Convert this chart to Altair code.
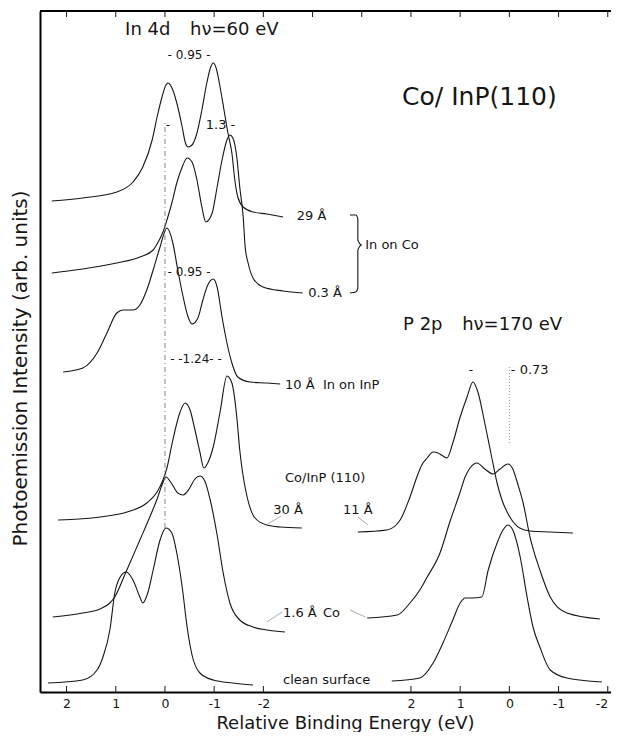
import altair as alt
import pandas as pd

# ---------------- data: binding energy (eV) and intensity (arb. units) ----------------
# In 4d, hv = 60 eV (left panel)
IN_29_E = [2.30, 1.67, 0.98, 0.65, 0.45, 0.26, 0.16, 0.06, -0.02, -0.06, -0.16, -0.24, -0.35, -0.41, -0.47, -0.55,
           -0.65, -0.75, -0.85, -0.93, -0.98, -1.04, -1.12, -1.20, -1.28, -1.36, -1.42, -1.48, -1.59, -1.79, -2.07, -2.40]
IN_29_I = [491, 494, 500, 510, 525, 552, 575, 595, 607, 609, 602, 589, 565, 550, 545, 547,
           559, 582, 609, 625, 629, 624, 605, 582, 559, 539, 512, 495, 485, 480, 478, 475]

IN_03_E = [2.30, 1.67, 0.98, 0.51, 0.24, 0.16, 0.04, -0.04, -0.14, -0.24, -0.35, -0.45, -0.55, -0.65, -0.75, -0.83,
           -0.96, -1.06, -1.16, -1.26, -1.32, -1.38, -1.46, -1.52, -1.59, -1.63, -1.69, -1.79, -1.99, -2.40, -2.80]
IN_03_I = [419, 423, 429, 435, 442, 448, 460, 472, 489, 509, 525, 534, 530, 512, 485, 470,
           479, 505, 532, 552, 557, 554, 535, 505, 475, 445, 429, 414, 405, 401, 399]

IN_10_E = [2.07, 1.67, 1.38, 1.18, 0.98, 0.85, 0.65, 0.51, 0.37, 0.24, 0.10, -0.04, -0.16, -0.26, -0.37, -0.47,
           -0.55, -0.67, -0.77, -0.87, -0.98, -1.06, -1.16, -1.26, -1.36, -1.48, -1.73, -2.07, -2.34]
IN_10_I = [320, 324, 339, 359, 379, 382, 382, 387, 402, 422, 445, 464, 449, 422, 395, 375,
           368, 374, 392, 407, 413, 405, 375, 349, 329, 315, 310, 309, 308]

IN_30_E = [2.17, 1.32, 0.77, 0.37, 0.16, 0.04, -0.04, -0.16, -0.30, -0.41, -0.51, -0.61, -0.71, -0.79,
           -0.87, -0.98, -1.12, -1.26, -1.36, -1.46, -1.52, -1.57, -1.67, -1.83, -2.07, -2.34, -2.78]
IN_30_I = [172, 175, 180, 189, 200, 212, 224, 252, 279, 289, 282, 262, 240, 224,
           229, 245, 280, 316, 309, 275, 242, 222, 195, 174, 167, 165, 164]

IN_16_E = [2.28, 1.67, 1.32, 1.12, 1.02, 0.81, 0.51, 0.30, 0.16, 0.06, -0.02, -0.14, -0.26, -0.37,
           -0.49, -0.61, -0.71, -0.81, -0.91, -1.06, -1.18, -1.32, -1.52, -1.79, -2.07, -2.44]
IN_16_I = [75, 79, 83, 89, 95, 118, 152, 176, 193, 207, 215, 208, 199, 197,
           203, 213, 216, 211, 194, 157, 120, 89, 72, 65, 62, 60]

IN_CLEAN_E = [2.38, 1.67, 1.38, 1.26, 1.12, 1.02, 0.91, 0.79, 0.65, 0.51, 0.45, 0.35, 0.24, 0.10,
              -0.02, -0.14, -0.24, -0.35, -0.45, -0.55, -0.71, -0.98, -1.38, -1.79]
IN_CLEAN_I = [9, 12, 22, 35, 62, 99, 115, 120, 112, 95, 89, 99, 122, 152,
              164, 159, 139, 105, 65, 37, 19, 12, 9, 7]

# P 2p, hv = 170 eV (right panel)
P_11_E = [3.08, 2.49, 2.22, 2.02, 1.88, 1.78, 1.67, 1.55, 1.45, 1.35, 1.27, 1.15, 1.00, 0.86, 0.74,
          0.64, 0.50, 0.36, 0.25, 0.15, -0.01, -0.21, -0.42, -0.83, -1.29]
P_11_I = [160, 162, 172, 195, 215, 227, 234, 240, 239, 236, 234, 249, 275, 295, 310,
          300, 269, 235, 209, 192, 175, 164, 161, 160, 159]

P_16_E = [2.89, 2.28, 2.02, 1.82, 1.67, 1.41, 1.21, 1.00, 0.90, 0.80, 0.66, 0.50, 0.33, 0.19, 0.03,
          -0.07, -0.17, -0.28, -0.42, -0.62, -0.83, -1.17, -1.84]
P_16_I = [74, 77, 89, 102, 115, 139, 170, 200, 215, 224, 229, 223, 218, 223, 228,
          223, 208, 189, 155, 122, 95, 79, 73]

P_CLEAN_E = [2.39, 1.82, 1.55, 1.35, 1.15, 1.00, 0.90, 0.76, 0.56, 0.43, 0.25, 0.13, 0.03, -0.07,
             -0.22, -0.36, -0.48, -0.62, -0.83, -1.17, -1.88]
P_CLEAN_I = [11, 14, 29, 49, 72, 89, 94, 94, 95, 122, 149, 162, 167, 162,
             135, 95, 65, 45, 22, 14, 10]

# axis ticks (shared axis position: In 4d at -E, P 2p at P_OFFSET - E)
P_OFFSET = 7.0
BOTTOM_TICKS = [-2, -1, 0, 1, 2, 5, 6, 7, 8, 9]
TOP_TICKS = list(range(-2, 10))

SERIES = [
    ("In 29 A", "In", IN_29_E, IN_29_I),
    ("In 0.3 A", "In", IN_03_E, IN_03_I),
    ("In 10 A", "In", IN_10_E, IN_10_I),
    ("In 30 A", "In", IN_30_E, IN_30_I),
    ("In 1.6 A", "In", IN_16_E, IN_16_I),
    ("In clean", "In", IN_CLEAN_E, IN_CLEAN_I),
    ("P 11 A", "P", P_11_E, P_11_I),
    ("P 1.6 A", "P", P_16_E, P_16_I),
    ("P clean", "P", P_CLEAN_E, P_CLEAN_I),
]

rows = []
for name, panel, es, ys in SERIES:
    for e, i in zip(es, ys):
        rows.append({"series": name, "u": (-e if panel == "In" else P_OFFSET - e), "I": i})
curves = pd.DataFrame(rows)

# ---------------- annotations ----------------
TITLES = [
    ("In 4d", -0.81, 662, 18),
    ("hν=60 eV", 0.51, 662, 18),
    ("Co/ InP(110)", 4.82, 595, 25),
    ("P 2p", 4.84, 367, 18),
    ("hν=170 eV", 6.04, 367, 18),
]
LABELS = [
    ("29 Å", 2.68, 476), ("0.3 Å", 2.91, 399), ("10 Å", 2.44, 307), ("In on InP", 3.21, 307),
    ("Co/InP (110)", 2.44, 214), ("30 Å", 2.20, 182), ("11 Å", 3.62, 182),
    ("1.6 Å", 2.40, 79), ("Co", 3.21, 79), ("clean surface", 2.40, 12), ("In on Co", 4.07, 447),
    ("1.3 -", 0.83, 567), ("- 0.73", 7.03, 322),
]
SPLITS = [
    ("- 0.95 -", 0.49, 637), ("-", 0.06, 567), ("- 0.95 -", 0.49, 420),
    ("- -1.24- -", 0.63, 333), ("-", 6.22, 322),
]
REF_IN = pd.DataFrame({"u": [0.0], "I1": [164], "I2": [569]})
REF_P = pd.DataFrame({"u": [7.0], "I1": [249], "I2": [327]})
BRACKET = pd.DataFrame({
    "u": [3.76, 3.88, 3.92, 3.92, 4.00, 3.92, 3.92, 3.88, 3.76],
    "I": [477, 477, 473, 452, 447, 442, 404, 400, 399],
})
BRACKET["o"] = range(len(BRACKET))
LEADERS = pd.DataFrame({
    "g": ["a", "a", "b", "b", "c", "c", "d", "d"],
    "u": [2.09, 2.36, 3.92, 4.13, 2.07, 2.38, 3.76, 4.07],
    "I": [168, 176, 175, 167, 70, 80, 82, 75],
})

W, H = 571, 681
FONT = "DejaVu Sans"
INK = "#151515"

xscale = alt.Scale(domain=[-2.54, -2.54 + W / 49.2], nice=False, zero=False)
yscale = alt.Scale(domain=[0, H], nice=False, zero=False)

XAXIS = alt.Axis(
    values=BOTTOM_TICKS, ticks=False, grid=False, domainWidth=2, domainColor="black",
    labelExpr="datum.value < 3.5 ? toString(-datum.value) : toString(7 - datum.value)",
    labelFont=FONT, labelFontSize=12.5, labelColor=INK, labelPadding=5, labelFlush=6,
    title="Relative Binding Energy (eV)", titleFont=FONT, titleFontSize=18, titleFontWeight="normal",
    titleColor=INK, titleX=305, titleY=36, titleAlign="center", titleBaseline="alphabetic")
YAXIS = alt.Axis(
    labels=False, ticks=False, grid=False, domainWidth=2, domainColor="black",
    title="Photoemission Intensity (arb. units)", titleFont=FONT, titleFontSize=20,
    titleFontWeight="normal", titleColor=INK, titleX=-20, titleY=357, titleAngle=270,
    titleAlign="center", titleBaseline="middle")


def X(f="u"):
    return alt.X(f"{f}:Q", scale=xscale, axis=XAXIS)


def Y(f="I"):
    return alt.Y(f"{f}:Q", scale=yscale, axis=YAXIS)


curve_layer = alt.Chart(curves).mark_line(interpolate="monotone", color=INK, strokeWidth=1.1).encode(
    x=X(), y=Y(), detail="series:N"
)

ref_in_layer = alt.Chart(REF_IN).mark_rule(color="#777", strokeWidth=0.9, strokeDash=[5, 3, 1, 3]).encode(
    x=X(), y=Y("I1"), y2="I2"
)
ref_p_layer = alt.Chart(REF_P).mark_rule(color="#888", strokeWidth=0.9, strokeDash=[1, 2]).encode(
    x=X(), y=Y("I1"), y2="I2"
)

bracket_layer = alt.Chart(BRACKET).mark_line(color=INK, strokeWidth=1.1, interpolate="monotone").encode(
    x=X(), y=Y(), order="o:Q"
)

leader_layer = alt.Chart(LEADERS).mark_line(color="#888", strokeWidth=0.7).encode(
    x=X(), y=Y(), detail="g:N"
)

top_border = alt.Chart(pd.DataFrame({"a": [0]})).mark_rule(color="black", strokeWidth=2).encode(
    x=alt.value(0), x2=alt.value(W), y=alt.value(0)
)
top_ticks = alt.Chart(pd.DataFrame({"u": TOP_TICKS})).mark_rule(color=INK, strokeWidth=1).encode(
    x=X(), y=alt.value(0), y2=alt.value(6)
)
bottom_ticks = alt.Chart(pd.DataFrame({"u": BOTTOM_TICKS})).mark_rule(color=INK, strokeWidth=1).encode(
    x=X(), y=alt.value(H), y2=alt.value(H - 6)
)

titles_df = pd.DataFrame(TITLES, columns=["t", "u", "I", "s"])
title_layer = alt.Chart(titles_df).mark_text(align="left", baseline="middle", font=FONT, color=INK).encode(
    x=X(), y=Y(), text="t:N", size=alt.Size("s:Q", scale=None, legend=None)
)
labels_df = pd.DataFrame(LABELS, columns=["t", "u", "I"])
label_layer = alt.Chart(labels_df).mark_text(align="left", baseline="middle", font=FONT, fontSize=13,
                                             color=INK).encode(x=X(), y=Y(), text="t:N")
splits_df = pd.DataFrame(SPLITS, columns=["t", "u", "I"])
split_layer = alt.Chart(splits_df).mark_text(align="center", baseline="middle", font=FONT, fontSize=12,
                                             color=INK).encode(x=X(), y=Y(), text="t:N")

chart = alt.layer(
    curve_layer, ref_in_layer, ref_p_layer, bracket_layer, leader_layer, top_border, top_ticks, bottom_ticks,
    title_layer, label_layer, split_layer,
).properties(
    width=W, height=H,
    autosize=alt.AutoSizeParams(type="none"),
    padding={"left": 32, "top": 3, "right": 0, "bottom": 40},
).configure_view(stroke=None).configure(background="white")

chart.save("out.html", embed_options={"renderer": "svg", "actions": False})
